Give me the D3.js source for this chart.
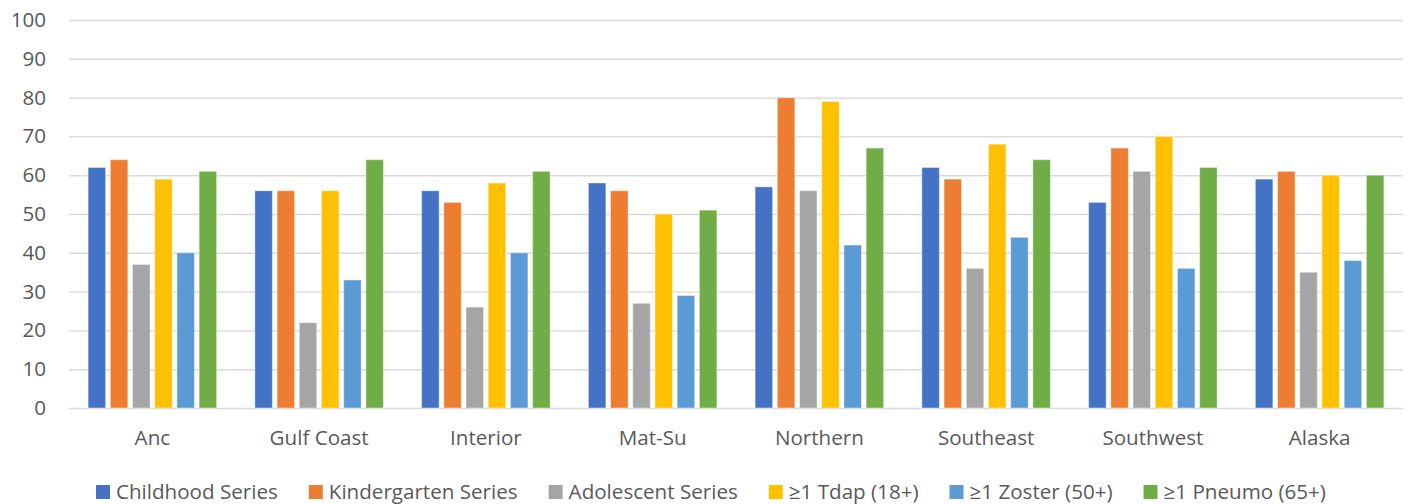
<!DOCTYPE html>
<html>
<head>
<meta charset="utf-8">
<script src="https://cdn.jsdelivr.net/npm/d3@7"></script>
<style>
  body { margin: 0; background: #fff; }
  text { font-family: "Open Sans", sans-serif; fill: #595959; }
</style>
</head>
<body>
<svg id="chart"></svg>
<script>
// regions along the x axis
const regions = ['Anc', 'Gulf Coast', 'Interior', 'Mat-Su', 'Northern', 'Southeast', 'Southwest', 'Alaska']

// one array per series, same order as regions
const childhood    = [62, 56, 56, 58, 57, 62, 53, 59]
const kindergarten = [64, 56, 53, 56, 80, 59, 67, 61]
const adolescent   = [37, 22, 26, 27, 56, 36, 61, 35]
const tdap         = [59, 56, 58, 50, 79, 68, 70, 60]
const zoster       = [40, 33, 40, 29, 42, 44, 36, 38]
const pneumo       = [61, 64, 61, 51, 67, 64, 62, 60]

const seriesNames = ['Childhood Series', 'Kindergarten Series', 'Adolescent Series', '≥1 Tdap (18+)', '≥1 Zoster (50+)', '≥1 Pneumo (65+)']
const seriesValues = [childhood, kindergarten, adolescent, tdap, zoster, pneumo]
const colors = ['#4472C4', '#ED7D31', '#A5A5A5', '#FFC000', '#5B9BD5', '#70AD47']

const yTicks = [0, 10, 20, 30, 40, 50, 60, 70, 80, 90, 100]

// svg container
const w = 1408
const h = 504
const margin = { top: 20, right: 5, bottom: 96, left: 69 }
const fontSize = '20.6px'

const svg = d3.select('#chart')
    .attr('width', w)
    .attr('height', h)

const x0 = d3.scaleBand()
    .domain(regions)
    .range([margin.left, w - margin.right])

const x1 = d3.scaleBand()
    .domain(seriesNames)
    .range([0, x0.bandwidth()])
    .paddingInner(0.21)
    .paddingOuter(0.86)

const y = d3.scaleLinear()
    .domain([0, 100])
    .range([h - margin.bottom, margin.top])

// gridlines + tick labels
const yAxis = svg.append('g')
    .attr('transform', `translate(${margin.left},0)`)
    .call(d3.axisLeft(y).tickValues(yTicks).tickSize(-(w - margin.left - margin.right)).tickPadding(23))
yAxis.select('.domain').remove()
yAxis.selectAll('line').attr('stroke', '#d9d9d9').attr('stroke-width', 1.4)
yAxis.selectAll('text')
    .style('font-size', fontSize)
    .attr('fill', '#595959')

// bars
const groups = svg.append('g')
    .selectAll('g')
    .data(regions)
    .join('g')
    .attr('transform', d => `translate(${x0(d)},0)`)

groups.selectAll('rect')
    .data((d, i) => seriesNames.map((name, s) => ({ name, value: seriesValues[s][i], color: colors[s] })))
    .join('rect')
    .attr('x', d => x1(d.name))
    .attr('width', x1.bandwidth())
    .attr('y', d => y(d.value))
    .attr('height', d => y(0) - y(d.value))
    .attr('fill', d => d.color)
    .attr('stroke', 'rgba(255,255,255,0.45)')
    .attr('stroke-width', 1)

// category labels
const xAxis = svg.append('g')
    .attr('transform', `translate(0,${y(0)})`)
    .call(d3.axisBottom(x0).tickSize(0).tickPadding(22))
xAxis.select('.domain').remove()
xAxis.selectAll('text')
    .style('font-size', fontSize)
    .attr('fill', '#595959')

// legend, laid out by measured text widths
const legend = svg.append('g').attr('transform', 'translate(0,492)')
let cursor = 96
seriesNames.forEach((name, i) => {
    const item = legend.append('g').attr('transform', `translate(${cursor},0)`)
    item.append('rect')
        .attr('x', 0)
        .attr('y', -7)
        .attr('width', 14)
        .attr('height', 14)
        .attr('fill', colors[i])
    const t = item.append('text')
        .attr('x', 20)
        .attr('dy', '0.35em')
        .style('font-size', fontSize)
        .text(name)
    cursor += 20 + t.node().getComputedTextLength() + 31
})
</script>
</body>
</html>
